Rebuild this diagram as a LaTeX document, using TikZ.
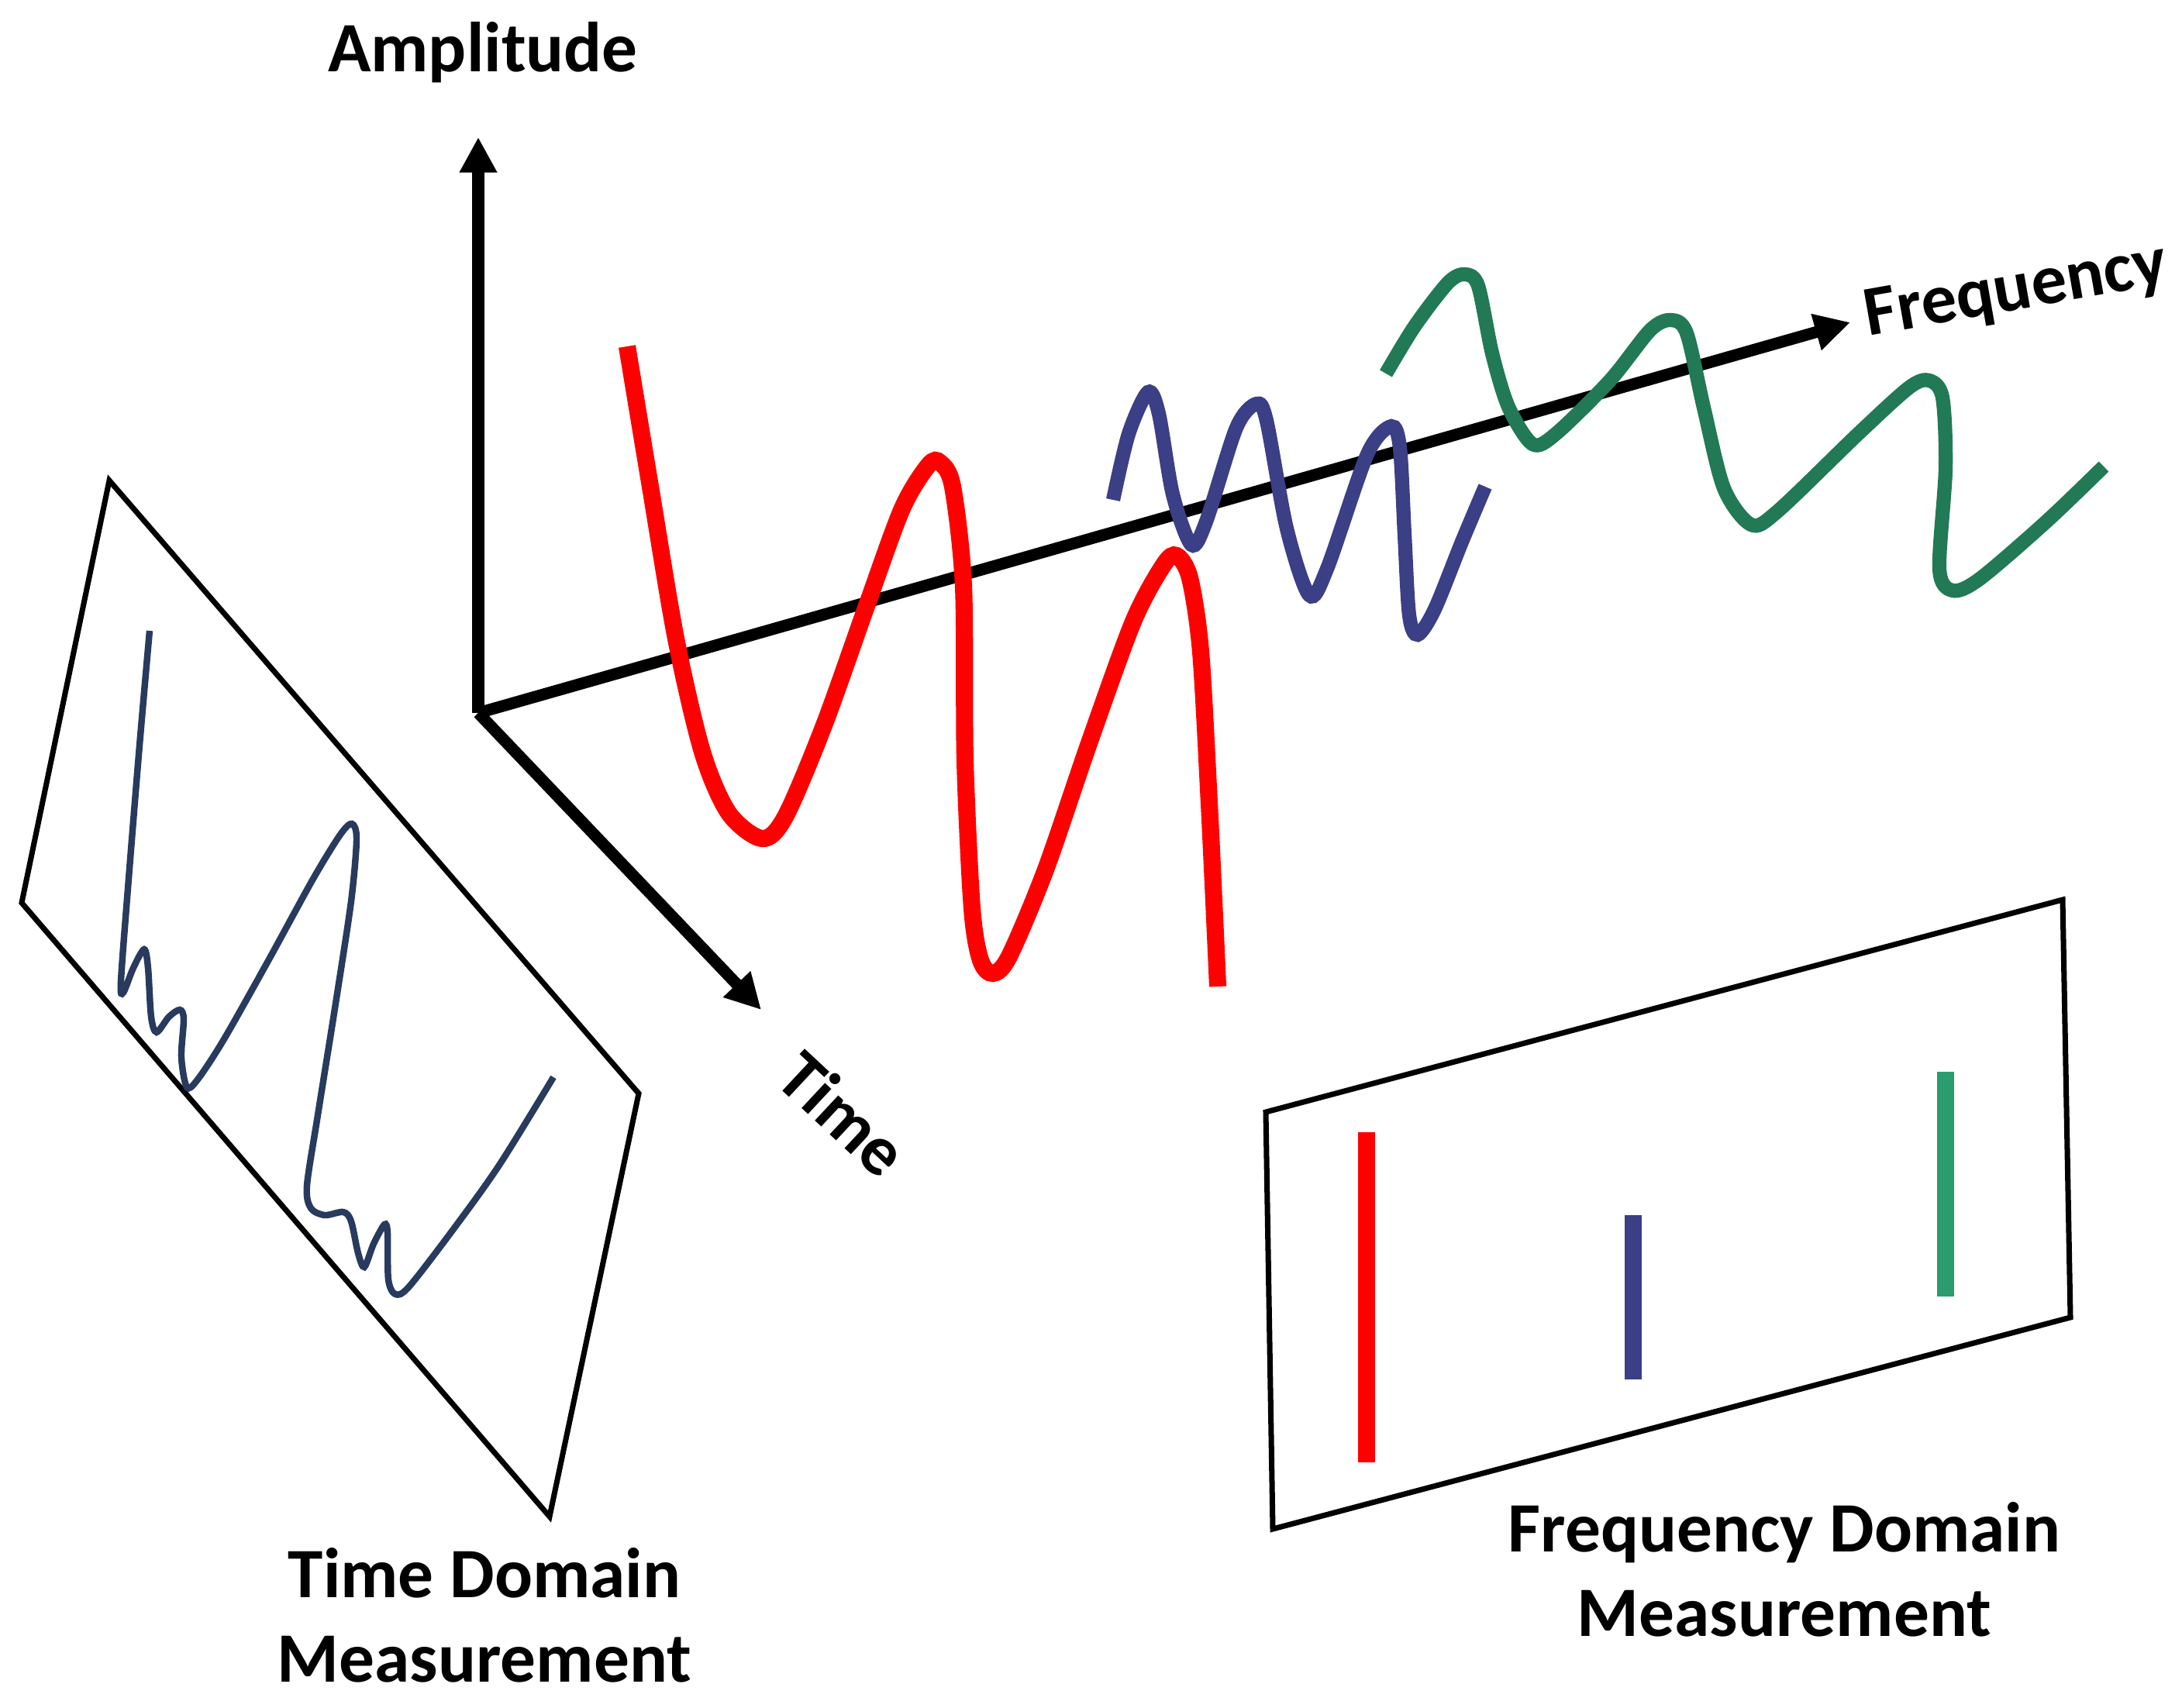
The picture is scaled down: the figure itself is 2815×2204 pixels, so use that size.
\documentclass[tikz,border=0pt]{standalone}
\usepackage{fontspec}
\setmainfont{Carlito}
\usepackage{tikz}
\usetikzlibrary{arrows.meta}
\definecolor{wavered}{HTML}{FF0000}
\definecolor{waveblue}{HTML}{3B3F86}
\definecolor{wavegreen}{HTML}{217A55}
\definecolor{bargreen}{HTML}{2A9C6E}
\definecolor{tracenavy}{HTML}{283A5E}

\begin{document}
\begin{tikzpicture}[x=0.1mm, y=-0.1mm,
    axis/.style={line width=4.3pt, -{Triangle[length=13pt, width=13pt]}},
    panel/.style={draw, line width=2pt, line join=miter},
    wave/.style={line width=#1, smooth, tension=0.5},
    axistext/.style={font=\fontsize{26}{31}\selectfont\bfseries, inner sep=0pt},
    bar/.style={line width=6.3pt}]
   \useasboundingbox (0,0) rectangle (2815,2204);

   \coordinate (O)       at (617,920);
   \coordinate (AmpTip)  at (617,177);
   \coordinate (FreqTip) at (2387,416);
   \coordinate (TimeTip) at (982,1303);
   \draw[axis] (O) to (AmpTip);
   \draw[axis] (O) to (FreqTip);
   \draw[axis] (O) to (TimeTip);

   \node[axistext, anchor=base] (amp) at (623,93) {Amplitude};
   \node[axistext, rotate=10] (freq) at (2601,377) {Frequency};
   \node[axistext, rotate=-43] (time) at (1088,1437) {Time};

   % signals
   \draw[wave=6.3pt, wavered] plot coordinates {(809,447) (839,628) (872,824)
      (906,970) (940,1049) (983,1082) (1013,1054) (1063,936) (1119,779)
      (1164,656) (1198,600) (1213,597) (1229,628) (1243,757) (1245,981)
      (1254,1172) (1265,1239) (1281,1256) (1302,1234) (1349,1122) (1405,959)
      (1462,802) (1501,729) (1518,717) (1535,746) (1549,841) (1560,1037)
      (1568,1206) (1571,1273)};
   \draw[wave=5.2pt, waveblue] plot coordinates {(1436,645) (1456,560)
      (1481,506) (1495,534) (1513,638) (1537,703) (1556,673) (1595,552)
      (1621,521) (1634,543) (1660,682) (1689,768) (1712,734) (1764,586)
      (1795,550) (1806,578) (1812,690) (1818,794) (1829,819) (1851,786)
      (1886,699) (1916,628)};
   \draw[wave=5.2pt, wavegreen] plot coordinates {(1788,482) (1825,421)
      (1868,365) (1890,354) (1907,369) (1925,456) (1946,525) (1977,573)
      (2007,560) (2077,491) (2129,426) (2156,413) (2176,430) (2198,526)
      (2224,630) (2259,677) (2293,660) (2397,560) (2463,500) (2489,491)
      (2506,513) (2510,604) (2502,734) (2519,762) (2554,747) (2640,673)
      (2714,602)};

   % time domain panel
   \draw[panel] (141,620) -- (824,1411) -- (709,1957) -- (28,1165) -- cycle;
   \draw[wave=2.4pt, tracenavy] plot coordinates {(193,814) (180,962)
      (166,1134) (156,1266) (159,1281) (172,1249) (186,1225) (191,1249)
      (195,1312) (202,1332) (218,1312) (232,1303) (237,1315) (234,1364)
      (241,1403) (255,1393) (289,1341) (347,1238) (404,1134) (439,1077)
      (454,1063) (460,1083) (453,1163) (433,1295) (410,1439) (396,1530)
      (401,1559) (419,1568) (443,1564) (453,1576) (462,1617) (470,1635)
      (482,1605) (496,1580) (500,1591) (501,1651) (510,1670) (528,1660)
      (588,1582) (645,1502) (714,1390)};
   \node[axistext, align=center, anchor=base] (tdm) at (625,2170)
      {Time Domain\\Measurement};

   % frequency domain panel
   \draw[panel] (1633,1435) -- (2661,1161) -- (2671,1700) -- (1642,1973) -- cycle;
   \draw[bar, wavered]  (1763,1461) -- (1763,1887);
   \draw[bar, waveblue] (2107,1568) -- (2107,1780);
   \draw[bar, bargreen] (2510,1383) -- (2510,1673);
   \node[axistext, align=center, anchor=base] (fdm) at (2302,2111)
      {Frequency Domain\\Measurement};
\end{tikzpicture}
\end{document}
